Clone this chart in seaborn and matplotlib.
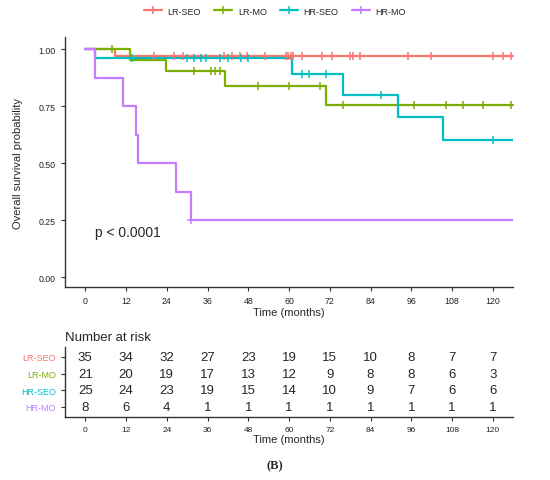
import matplotlib
matplotlib.use("Agg")
import matplotlib.pyplot as plt
from matplotlib.lines import Line2D
import numpy as np
import pandas as pd
import seaborn as sns

groups = ["LR-SEO", "LR-MO", "HR-SEO", "HR-MO"]
colors = ["#F8766D", "#7CAE00", "#00BFC4", "#C77CFF"]

# step curves: time of each change, survival after it
lr_seo_t = [0, 8.8, 126]
lr_seo_s = [1.0, 0.971, 0.971]
lr_mo_t = [0, 13.1, 23.8, 41, 71, 126]
lr_mo_s = [1.0, 0.952, 0.905, 0.836, 0.753, 0.753]
hr_seo_t = [0, 3, 61, 76, 92.1, 105.2, 126]
hr_seo_s = [1.0, 0.96, 0.89, 0.80, 0.70, 0.60, 0.60]
hr_mo_t = [0, 3, 11, 15, 15.6, 26.8, 31, 126]
hr_mo_s = [1.0, 0.875, 0.75, 0.625, 0.50, 0.375, 0.25, 0.25]

# censoring times
lr_seo_c = [20.2, 26.1, 28.8, 40.8, 43.1, 45.7, 47.7, 52.9, 59.0, 59.7, 60.5,
            61.3, 63.9, 69.8, 72.8, 78.0, 78.7, 80.9, 94.9, 101.8, 120, 122.9, 125.4]
lr_mo_c = [7.9, 32, 37.1, 38.3, 39.8, 50.8, 60, 69, 76, 96.9, 106.2, 111.1, 117, 125.4]
hr_seo_c = [13.8, 30, 32, 34.2, 35.6, 39.8, 42.1, 45.9, 47.9, 63.9, 65.9, 71, 87, 120]
hr_mo_c = [31]

risk_times = [0, 12, 24, 36, 48, 60, 72, 84, 96, 108, 120]
risk_lr_seo = [35, 34, 32, 27, 23, 19, 15, 10, 8, 7, 7]
risk_lr_mo = [21, 20, 19, 17, 13, 12, 9, 8, 8, 6, 3]
risk_hr_seo = [25, 24, 23, 19, 15, 14, 10, 9, 7, 6, 6]
risk_hr_mo = [8, 6, 4, 1, 1, 1, 1, 1, 1, 1, 1]

curves = [(lr_seo_t, lr_seo_s, lr_seo_c), (lr_mo_t, lr_mo_s, lr_mo_c),
          (hr_seo_t, hr_seo_s, hr_seo_c), (hr_mo_t, hr_mo_s, hr_mo_c)]
risks = [risk_lr_seo, risk_lr_mo, risk_hr_seo, risk_hr_mo]

sns.set_style("ticks")
plt.rcParams["font.family"] = ["Liberation Sans", "DejaVu Sans"]

fig = plt.figure(figsize=(5.5, 4.81), dpi=100)
ax = fig.add_axes([0.118, 0.401, 0.815, 0.520])
rax = fig.add_axes([0.118, 0.131, 0.815, 0.146])

for g, col, (t, s, c) in zip(groups, colors, curves):
    step_df = pd.DataFrame({"time": t, "surv": s})
    sns.lineplot(data=step_df, x="time", y="surv", ax=ax, color=col, lw=1.6,
                 drawstyle="steps-post", estimator=None, sort=False)
    idx = np.searchsorted(np.array(t), np.array(c), side="right") - 1
    cens_df = pd.DataFrame({"time": c, "surv": np.array(s)[idx]})
    sns.scatterplot(data=cens_df, x="time", y="surv", ax=ax, color=col,
                    marker="+", s=36, linewidth=1.1, zorder=3)

ax.set_xlim(-6, 126)
ax.set_ylim(-0.044, 1.053)
ax.set_xticks(risk_times)
ax.set_yticks([0, 0.25, 0.5, 0.75, 1.0])
ax.set_yticklabels(["0.00", "0.25", "0.50", "0.75", "1.00"])
ax.tick_params(labelsize=6.3, length=3, width=0.8, colors="#333333", labelcolor="#222222")
ax.set_xlabel("Time (months)", fontsize=8, labelpad=1)
ax.set_ylabel("Overall survival probability", fontsize=8, labelpad=11)
for sp in ["left", "bottom"]:
    ax.spines[sp].set_linewidth(1.0)
    ax.spines[sp].set_color("#333333")
sns.despine(ax=ax)
ax.text(3, 0.18, "p < 0.0001", fontsize=10)

handles = [Line2D([0], [0], color=col, lw=1.6, marker="+", markersize=6, markeredgewidth=1.1)
           for col in colors]
fig.legend(handles, groups, loc="center", bbox_to_anchor=(0.5, 0.975), ncol=4,
           frameon=False, fontsize=6.5, handlelength=2, columnspacing=1.5, handletextpad=0.6)

# risk table
for i, (g, col, vals) in enumerate(zip(groups, colors, risks)):
    ypos = 4 - i
    for tt, v in zip(risk_times, vals):
        rax.text(tt, ypos, str(v), ha="center", va="center", fontsize=9.5)
rax.set_xlim(-6, 126)
rax.set_ylim(0.4, 4.6)
rax.set_xticks(risk_times)
rax.set_yticks([4, 3, 2, 1])
rax.set_yticklabels(groups)
rax.tick_params(axis="y", labelsize=6.5, length=3, width=0.8, colors="#333333")
for lab, col in zip(rax.get_yticklabels(), colors):
    lab.set_color(col)
rax.tick_params(axis="x", labelsize=6, length=3, width=0.8, colors="#333333", labelcolor="#222222")
rax.set_xlabel("Time (months)", fontsize=8, labelpad=1)
rax.set_title("Number at risk", fontsize=9.5, loc="left", pad=5)
for sp in ["left", "bottom"]:
    rax.spines[sp].set_linewidth(1.0)
    rax.spines[sp].set_color("#333333")
sns.despine(ax=rax)

fig.text(0.5, 0.031, "(B)", ha="center", va="center", fontsize=9,
         fontweight="bold", family="Liberation Serif")

fig.savefig("out.png", dpi=100)
